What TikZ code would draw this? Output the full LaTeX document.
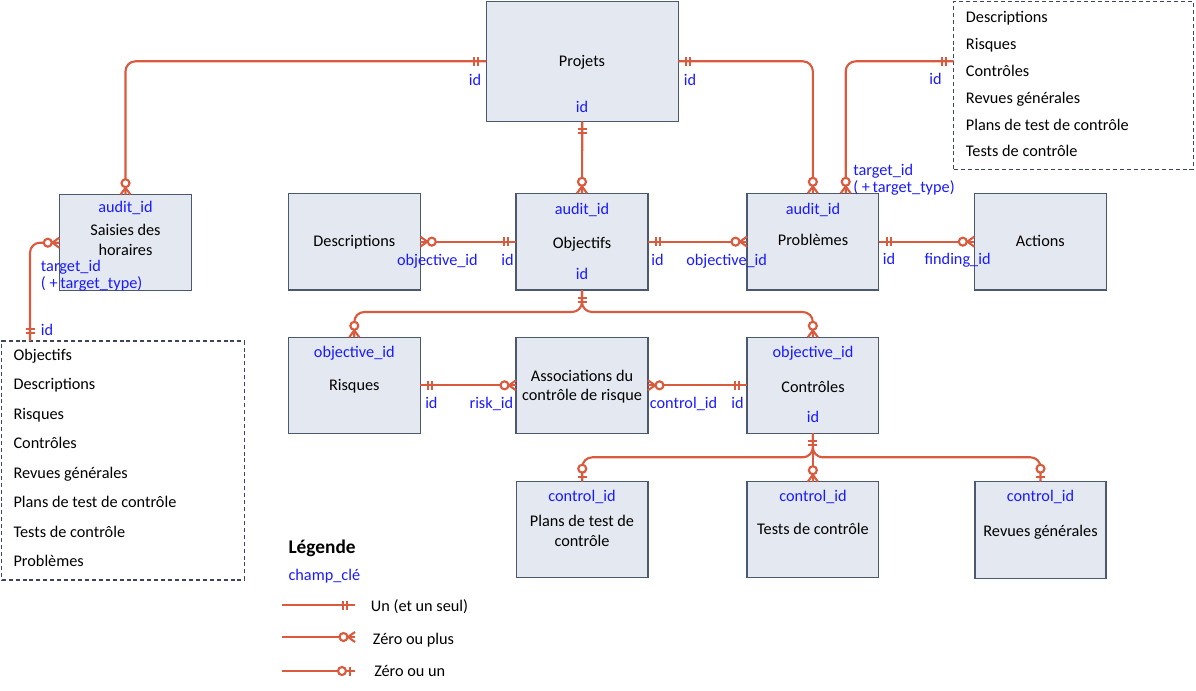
\documentclass[tikz,border=0pt]{standalone}
\usepackage{fontspec}
\setmainfont{Carlito}
\usetikzlibrary{calc}
\definecolor{conncol}{HTML}{DA5A3E}
\definecolor{boxfill}{HTML}{E4E9F1}
\definecolor{boxline}{HTML}{4B586E}
\definecolor{keyblue}{HTML}{1A1AFF}
\definecolor{dashline}{HTML}{3C4658}
\newcommand\mkbox[6][ent]{\node[#1, minimum width={(#5-#3)*0.75pt}, minimum height={(#6-#4)*0.75pt}] (#2) at ({(#3+#5)/2},{(#4+#6)/2}) {};}
\tikzset{
  conn/.style={draw=conncol, line width=1.6pt},
  ent/.style={draw=boxline, fill=boxfill, line width=0.9pt, inner sep=0pt, outer sep=0pt, rectangle},
  dbox/.style={draw=dashline, line width=0.9pt, dash pattern=on 3pt off 2.2pt, inner sep=0pt, outer sep=0pt, rectangle},
  txt/.style={anchor=base, inner sep=0pt, font=\fontsize{12.2}{14}\selectfont},
  key/.style={txt, text=keyblue},
  one/.pic={\draw[conn] (8,-4.5)--(8,4.5) (12,-4.5)--(12,4.5);},
  zmany/.pic={\draw[conn] (0,-5)--(7,0)--(0,5); \draw[conn, fill=white] (11.5,0) circle[radius=3pt];},
  zone/.pic={\draw[conn] (5,-4.5)--(5,4.5); \draw[conn, fill=white] (13,0) circle[radius=3pt];},
}
\begin{document}
\begin{tikzpicture}[x=0.75pt,y=-0.75pt]
\useasboundingbox (0,0) rectangle (1196,690);
% entities
\mkbox{proj}{486.3}{1.3}{678.3}{121.3}
\mkbox{sai}{59.3}{194.7}{191.7}{290.7}
\mkbox{desc}{288.3}{193.3}{420.3}{290}
\mkbox{obj}{516}{193.3}{648}{290}
\mkbox{prob}{747}{193.3}{878.7}{290}
\mkbox{act}{974.3}{193.3}{1106.3}{290}
\mkbox{ris}{288.3}{337.3}{420.3}{433.3}
\mkbox{asc}{516}{337.3}{648}{433.3}
\mkbox{ctl}{747}{337.3}{878.7}{433.3}
\mkbox{plan}{516.5}{481.7}{648}{577.7}
\mkbox{tst}{747}{481.7}{878.7}{577.7}
\mkbox{rev}{975}{481.7}{1106}{578.7}
\mkbox[dbox]{rbox}{953.7}{1.3}{1193.3}{169.3}
\mkbox[dbox]{lbox}{1.7}{341}{244.7}{580}
\coordinate (probT2) at ($(prob.north east)+(-33,0)$);
\coordinate (rboxL) at (rbox.west |- proj.east);
\coordinate (lboxT) at ($(lbox.north west)+(28.3,0)$);
% connectors
\draw[conn, rounded corners=7.5pt] (proj.west) -| (sai.north);
\draw[conn, rounded corners=7.5pt] (proj.east) -| (prob.north);
\draw[conn] (proj.south) -- (obj.north);
\draw[conn, rounded corners=7.5pt] (rboxL) -| (probT2);
\draw[conn, rounded corners=7.5pt] (sai.west) -| (lboxT);
\draw[conn] (desc.east) -- (obj.west);
\draw[conn] (obj.east) -- (prob.west);
\draw[conn] (prob.east) -- (act.west);
\draw[conn, rounded corners=7.5pt] (obj.south) -- ++(0,22) -| (ris.north);
\draw[conn, rounded corners=7.5pt] (obj.south) -- ++(0,22) -| (ctl.north);
\draw[conn] (ris.east) -- (asc.west);
\draw[conn] (asc.east) -- (ctl.west);
\draw[conn, rounded corners=7.5pt] (ctl.south) -- ++(0,24) -| (plan.north);
\draw[conn, rounded corners=7.5pt] (ctl.south) -- ++(0,24) -| (rev.north);
\draw[conn] (ctl.south) -- (tst.north);
% markers
\pic[rotate=180] at (proj.west) {one};
\pic[rotate=90] at (sai.north) {zmany};
\pic at (proj.east) {one};
\pic[rotate=90] at (prob.north) {zmany};
\pic[rotate=-90] at (proj.south) {one};
\pic[rotate=90] at (obj.north) {zmany};
\pic[rotate=180] at (rboxL) {one};
\pic[rotate=90] at (probT2) {zmany};
\pic[rotate=180] at (sai.west) {zmany};
\pic[rotate=90] at (lboxT) {one};
\pic at (desc.east) {zmany};
\pic[rotate=180] at (obj.west) {one};
\pic at (obj.east) {one};
\pic[rotate=180] at (prob.west) {zmany};
\pic at (prob.east) {one};
\pic[rotate=180] at (act.west) {zmany};
\pic[rotate=-90] at (obj.south) {one};
\pic[rotate=90] at (ris.north) {zmany};
\pic[rotate=90] at (ctl.north) {zmany};
\pic at (ris.east) {one};
\pic[rotate=180] at (asc.west) {zmany};
\pic at (asc.east) {zmany};
\pic[rotate=180] at (ctl.west) {one};
\pic[rotate=-90] at (ctl.south) {one};
\pic[rotate=90] at (plan.north) {zone};
\pic[rotate=90] at (tst.north) {zmany};
\pic[rotate=90] at (rev.north) {zone};
% texts in entities
\node[txt] (tproj) at (582,66) {Projets};
\node[key] (kproj) at (582,112) {id};
\node[key] (kprojl) at (475,85) {id};
\node[key] (kprojr) at (690,85) {id};
\node[key] (kobja) at (582,214) {audit\_id};
\node[txt] (tobj) at (582,248) {Objectifs};
\node[key] (kobj) at (582,279) {id};
\node[key] (kproba) at (813,214) {audit\_id};
\node[txt] (tprob) at (813,245) {Problèmes};
\node[txt] (tdesc) at (354.3,246) {Descriptions};
\node[txt] (tact) at (1040.3,246) {Actions};
\node[key] (ksaia) at (125.5,212) {audit\_id};
\node[txt] (tsai1) at (125.5,235) {Saisies des};
\node[txt] (tsai2) at (125.5,255) {horaires};
\node[key, anchor=base west] (ksait1) at (40.7,271) {target\_id};
\node[key, anchor=base west] (ksait2) at (40.7,288) {( +\,target\_type)};
\node[key, anchor=base west] (klbox) at (40.7,335) {id};
\node[key, anchor=base west] (kprobt1) at (853,175) {target\_id};
\node[key, anchor=base west] (kprobt2) at (853,192) {( +\,target\_type)};
\node[key] (krbox) at (935.5,84.3) {id};
\node[key, anchor=base east] (kdo1) at (478,265) {objective\_id};
\node[key] (kdo2) at (507.5,265) {id};
\node[key] (kop1) at (657.5,265) {id};
\node[key, anchor=base west] (kop2) at (686,265) {objective\_id};
\node[key] (kpa1) at (889,264) {id};
\node[key, anchor=base west] (kpa2) at (924.3,264) {finding\_id};
\node[key] (kris) at (354.3,357) {objective\_id};
\node[txt] (tris) at (354.3,390) {Risques};
\node[txt] (tasc1) at (582,381) {Associations du};
\node[txt] (tasc2) at (582,400) {contrôle de risque};
\node[key] (kctl) at (813,357) {objective\_id};
\node[txt] (tctl) at (813,392) {Contrôles};
\node[key] (kctlid) at (813,422) {id};
\node[key, anchor=base west] (kra1) at (425,408) {id};
\node[key, anchor=base east] (kra2) at (513.4,408) {risk\_id};
\node[key, anchor=base west] (kac1) at (649.6,408) {control\_id};
\node[key, anchor=base west] (kac2) at (731,408) {id};
\node[key] (kplan) at (582,501) {control\_id};
\node[txt] (tplan1) at (582,526) {Plans de test de};
\node[txt] (tplan2) at (582,546) {contrôle};
\node[key] (ktst) at (813,501) {control\_id};
\node[txt] (ttst) at (813,534) {Tests de contrôle};
\node[key] (krev) at (1040.5,501) {control\_id};
\node[txt] (trev) at (1040.5,536) {Revues générales};
% dashed box lists
\foreach \t [count=\i from 0] in {Descriptions, Risques, Contrôles, Revues générales, Plans de test de contrôle, Tests de contrôle}
  \node[txt, anchor=base west] (r\i) at (965.7,{22.2+26.95*\i}) {\t};
\foreach \t [count=\i from 0] in {Objectifs, Descriptions, Risques, Contrôles, Revues générales, Plans de test de contrôle, Tests de contrôle, Problèmes}
  \node[txt, anchor=base west] (l\i) at (13.3,{360.5+29.43*\i}) {\t};
% legend
\node[txt, anchor=base west, font=\fontsize{14.5}{16}\bfseries] (leg) at (288.3,553) {Légende};
\node[key, anchor=base west] (lk) at (288.3,580.5) {champ\_clé};
\coordinate (lg1a) at (282,605); \coordinate (lg1b) at (355,605);
\coordinate (lg2a) at (282,637); \coordinate (lg2b) at (355,637);
\coordinate (lg3a) at (282,671); \coordinate (lg3b) at (355,671);
\draw[conn] (lg1a) -- (lg1b); \pic[rotate=180] at (lg1b) {one};
\draw[conn] (lg2a) -- (lg2b); \pic[rotate=180] at (lg2b) {zmany};
\draw[conn] (lg3a) -- (lg3b); \pic[rotate=180] at (lg3b) {zone};
\node[txt, anchor=base west] (lt1) at (370.7,611) {Un (et un seul)};
\node[txt, anchor=base west] (lt2) at (372.7,644) {Zéro ou plus};
\node[txt, anchor=base west] (lt3) at (374,676) {Zéro ou un};
\end{tikzpicture}
\end{document}
